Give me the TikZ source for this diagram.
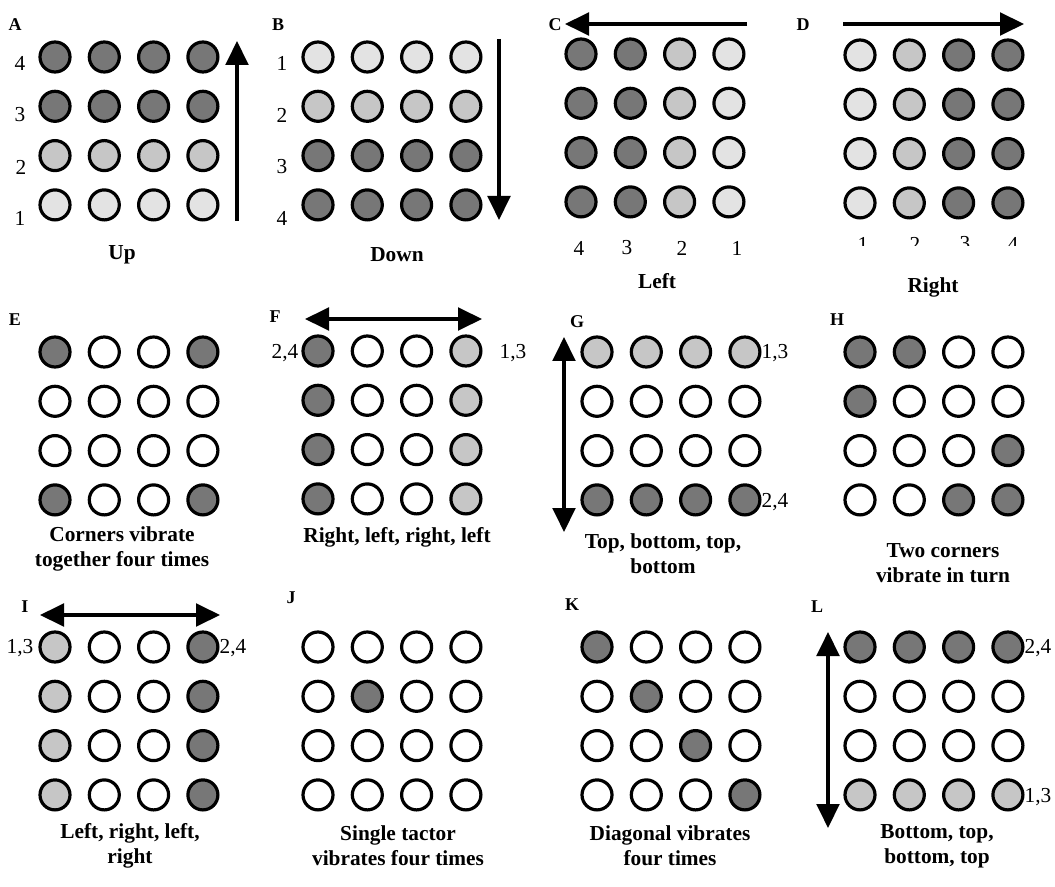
\documentclass[tikz,border=0pt]{standalone}
\usepackage{fontspec}
\setmainfont{Liberation Serif}
\usetikzlibrary{arrows.meta}
\definecolor{TacOff}{HTML}{FFFFFF}
\definecolor{TacPale}{HTML}{E3E3E3}
\definecolor{TacMid}{HTML}{C6C6C6}
\definecolor{TacDark}{HTML}{777777}
\tikzset{
  tactor/.style={
    circle,
    draw=black,
    line width=2.4pt,
    minimum size=22.5pt,
    inner sep=0pt
  },
  tactor flow/.style={-{Triangle[length=18pt,width=17pt]},line width=2.5pt},
  tactor swing/.style={{Triangle[length=18pt,width=17pt]}-{Triangle[length=18pt,width=17pt]},line width=2.5pt},
  panel tag/.style={font=\fontsize{13.5}{15}\selectfont\bfseries,inner sep=0pt},
  tactor index/.style={font=\fontsize{16}{18}\selectfont,inner sep=0pt},
  pattern caption/.style={
    font=\fontsize{16}{18.5}\selectfont\bfseries,
    align=center,
    inner sep=0pt
  }
}
% #1 panel name, #2/#3 centre of the top left tactor, #4 the sixteen fills row by row
\newcommand{\tactorgrid}[4]{%
  \foreach \f [count=\k from 0] in {#4} {
    \pgfmathtruncatemacro{\row}{div(\k,4)+1}
    \pgfmathtruncatemacro{\col}{mod(\k,4)+1}
    \node[tactor,fill=Tac\f] (#1-\row-\col) at ({#2+(\col-1)*49.3},{#3+(\row-1)*49.3}) {};
  }
}

\begin{document}
\begin{tikzpicture}[x=0.75pt,y=-0.75pt]
  \path[use as bounding box,fill=white] (0,0) rectangle (1055,887);

  % top row: sweeps
  \tactorgrid{A}{55}{57}{Dark,Dark,Dark,Dark,Dark,Dark,Dark,Dark,Mid,Mid,Mid,Mid,Pale,Pale,Pale,Pale}
  \tactorgrid{B}{318}{57}{Pale,Pale,Pale,Pale,Mid,Mid,Mid,Mid,Dark,Dark,Dark,Dark,Dark,Dark,Dark,Dark}
  \tactorgrid{C}{581}{54}{Dark,Dark,Mid,Pale,Dark,Dark,Mid,Pale,Dark,Dark,Mid,Pale,Dark,Dark,Mid,Pale}
  \tactorgrid{D}{860}{55}{Pale,Mid,Dark,Dark,Pale,Mid,Dark,Dark,Pale,Mid,Dark,Dark,Pale,Mid,Dark,Dark}

  \node[panel tag] (A-tag) at (15,25) {A};
  \node[panel tag] (B-tag) at (278,25) {B};
  \node[panel tag] (C-tag) at (555,25) {C};
  \node[panel tag] (D-tag) at (803,25) {D};

  \node[tactor index] (A-num-4) at (20,63) {4};
  \node[tactor index] (A-num-3) at (20,115) {3};
  \node[tactor index] (A-num-2) at (21,167) {2};
  \node[tactor index] (A-num-1) at (20,218) {1};
  \node[tactor index] (B-num-1) at (282,63) {1};
  \node[tactor index] (B-num-2) at (282,115) {2};
  \node[tactor index] (B-num-3) at (282,167) {3};
  \node[tactor index] (B-num-4) at (282,218) {4};
  \node[tactor index] (C-num-4) at (579,248) {4};
  \node[tactor index] (C-num-3) at (627,248) {3};
  \node[tactor index] (C-num-2) at (682,248) {2};
  \node[tactor index] (C-num-1) at (737,248) {1};
  % the column numbers of D are cut off below
  \begin{scope}
    \clip (840,230) rectangle (1035,246);
    \node[tactor index] (D-num-1) at (863,244) {1};
    \node[tactor index] (D-num-2) at (915,244) {2};
    \node[tactor index] (D-num-3) at (965,244) {3};
    \node[tactor index] (D-num-4) at (1013,244) {4};
  \end{scope}

  \coordinate (A-from) at (237,221);
  \coordinate (A-to) at (237,41);
  \coordinate (B-from) at (499,39);
  \coordinate (B-to) at (499,220);
  \coordinate (C-from) at (747,24);
  \coordinate (C-to) at (565,24);
  \coordinate (D-from) at (843,24);
  \coordinate (D-to) at (1024,24);
  \draw[tactor flow] (A-from) -- (A-to);
  \draw[tactor flow] (B-from) -- (B-to);
  \draw[tactor flow] (C-from) -- (C-to);
  \draw[tactor flow] (D-from) -- (D-to);

  \node[pattern caption] (A-cap) at (122,255) {Up};
  \node[pattern caption] (B-cap) at (397,255) {Down};
  \node[pattern caption] (C-cap) at (657,281) {Left};
  \node[pattern caption] (D-cap) at (933,287) {Right};

  % middle row
  \tactorgrid{E}{55}{352}{Dark,Off,Off,Dark,Off,Off,Off,Off,Off,Off,Off,Off,Dark,Off,Off,Dark}
  \tactorgrid{F}{318}{351}{Dark,Off,Off,Mid,Dark,Off,Off,Mid,Dark,Off,Off,Mid,Dark,Off,Off,Mid}
  \tactorgrid{G}{597}{352}{Mid,Mid,Mid,Mid,Off,Off,Off,Off,Off,Off,Off,Off,Dark,Dark,Dark,Dark}
  \tactorgrid{H}{860}{352}{Dark,Dark,Off,Off,Dark,Off,Off,Off,Off,Off,Off,Dark,Off,Off,Dark,Dark}

  \node[panel tag] (E-tag) at (15,320) {E};
  \node[panel tag] (F-tag) at (275,317) {F};
  \node[panel tag] (G-tag) at (577,322) {G};
  \node[panel tag] (H-tag) at (837,320) {H};

  \node[tactor index] (F-even) at (285,353) {2,4};
  \node[tactor index] (F-odd) at (513,353) {1,3};
  \node[tactor index] (G-odd) at (775,353) {1,3};
  \node[tactor index] (G-even) at (775,502) {2,4};

  \coordinate (F-left) at (305,319);
  \coordinate (F-right) at (482,319);
  \coordinate (G-top) at (564,337);
  \coordinate (G-bottom) at (564,532);
  \draw[tactor swing] (F-left) -- (F-right);
  \draw[tactor swing] (G-top) -- (G-bottom);

  \node[pattern caption] (E-cap) at (122,549) {Corners vibrate\\together four times};
  \node[pattern caption] (F-cap) at (397,537) {Right, left, right, left};
  \node[pattern caption] (G-cap) at (663,554) {Top, bottom, top,\\bottom};
  \node[pattern caption] (H-cap) at (943,563) {Two corners\\vibrate in turn};

  % bottom row
  \tactorgrid{I}{55}{647}{Mid,Off,Off,Dark,Mid,Off,Off,Dark,Mid,Off,Off,Dark,Mid,Off,Off,Dark}
  \tactorgrid{J}{318}{647}{Off,Off,Off,Off,Off,Dark,Off,Off,Off,Off,Off,Off,Off,Off,Off,Off}
  \tactorgrid{K}{597}{647}{Dark,Off,Off,Off,Off,Dark,Off,Off,Off,Off,Dark,Off,Off,Off,Off,Dark}
  \tactorgrid{L}{860}{647}{Dark,Dark,Dark,Dark,Off,Off,Off,Off,Off,Off,Off,Off,Mid,Mid,Mid,Mid}

  \node[panel tag] (I-tag) at (25,607) {I};
  \node[panel tag] (J-tag) at (291,598) {J};
  \node[panel tag] (K-tag) at (572,605) {K};
  \node[panel tag] (L-tag) at (817,607) {L};

  \node[tactor index] (I-odd) at (20,648) {1,3};
  \node[tactor index] (I-even) at (233,648) {2,4};
  \node[tactor index] (L-even) at (1038,648) {2,4};
  \node[tactor index] (L-odd) at (1038,797) {1,3};

  \coordinate (I-left) at (40,615);
  \coordinate (I-right) at (220,615);
  \coordinate (L-top) at (828,632);
  \coordinate (L-bottom) at (828,828);
  \draw[tactor swing] (I-left) -- (I-right);
  \draw[tactor swing] (L-top) -- (L-bottom);

  \node[pattern caption] (I-cap) at (130,846) {Left, right, left,\\right};
  \node[pattern caption] (J-cap) at (398,846) {Single tactor\\vibrates four times};
  \node[pattern caption] (K-cap) at (670,846) {Diagonal vibrates\\four times};
  \node[pattern caption] (L-cap) at (937,846) {Bottom, top,\\bottom, top};
\end{tikzpicture}
\end{document}
